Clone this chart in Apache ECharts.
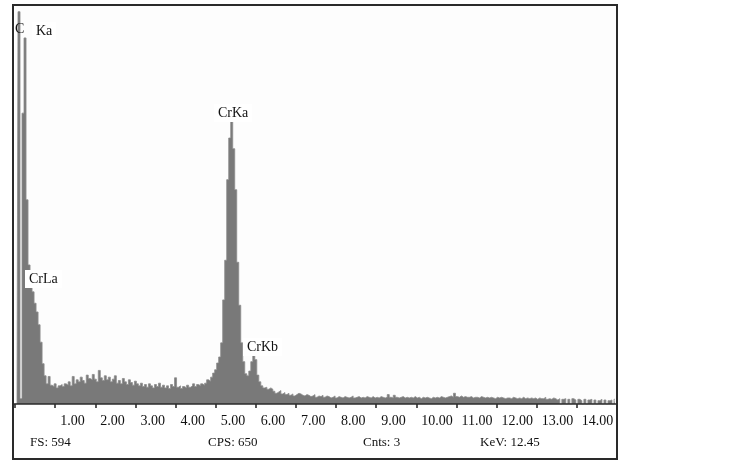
<!DOCTYPE html>
<html>
<head>
<meta charset="utf-8">
<title>EDS spectrum</title>
<script src="https://cdn.jsdelivr.net/npm/echarts@6/dist/echarts.min.js"></script>
<style>
  html, body { margin: 0; padding: 0; background: #fff; }
  #spectrum { width: 739px; height: 466px; }
</style>
</head>
<body>
<div id="spectrum"></div>
<script>
// channel width of the spectrum, keV
var channelKeV = 0.05;

// counts per channel (channel 0 = 0.00 keV)
var counts = [
    0, 0, 584, 8, 433, 545, 304, 207, 180, 167,       // 0
    150, 137, 118, 92, 60, 42, 30, 41, 28, 26,        // 10
    30, 24, 27, 29, 26, 30, 28, 33, 27, 41,           // 20
    30, 36, 33, 40, 35, 31, 43, 38, 36, 44,           // 30
    37, 33, 50, 39, 35, 42, 36, 40, 33, 37,           // 40
    42, 31, 35, 30, 38, 33, 29, 36, 32, 28,           // 50
    34, 30, 27, 31, 26, 29, 25, 30, 27, 24,           // 60
    29, 26, 31, 25, 28, 24, 27, 23, 29, 26,           // 70
    39, 25, 27, 23, 26, 24, 28, 25, 27, 30,           // 80
    26, 29, 27, 30, 28, 31, 36, 34, 40, 46,           // 90
    51, 61, 70, 91, 155, 214, 334, 396, 428, 380,     // 100
    319, 211, 147, 91, 63, 45, 42, 49, 63, 73,        // 110
    66, 43, 33, 27, 24, 25, 22, 24, 22, 19,           // 120
    16, 18, 20, 15, 17, 14, 16, 13, 15, 12,           // 130
    14, 16, 15, 13, 12, 14, 13, 11, 12, 14,           // 140
    10, 12, 11, 13, 10, 12, 11, 9, 10, 12,            // 150
    9, 11, 10, 9, 11, 10, 9, 10, 12, 9,               // 160
    10, 11, 9, 10, 9, 11, 10, 9, 11, 9,               // 170
    10, 9, 11, 10, 9, 10, 14, 10, 9, 13,              // 180
    10, 9, 10, 11, 9, 10, 9, 10, 9, 11,               // 190
    9, 10, 8, 10, 9, 10, 9, 8, 10, 9,                 // 200
    10, 9, 11, 10, 9, 10, 11, 12, 10, 16,             // 210
    11, 10, 12, 10, 11, 10, 10, 11, 9, 10,            // 220
    10, 9, 11, 10, 9, 10, 9, 10, 9, 8,                // 230
    10, 9, 10, 9, 8, 9, 9, 8, 10, 9,                  // 240
    8, 9, 8, 10, 8, 9, 8, 9, 8, 9,                    // 250
    7, 9, 8, 8, 10, 7, 8, 7, 9, 8,                    // 260
    6, 8, 0, 7, 8, 0, 7, 0, 8, 6,                     // 270
    0, 7, 5, 0, 7, 0, 6, 7, 0, 6,                     // 280
    0, 5, 7, 0, 6, 0, 5, 6, 0, 7                      // 290
];

// x axis labels for 1..14 keV
var tickLabels = ['1.00', '2.00', '3.00', '4.00', '5.00', '6.00', '7.00',
    '8.00', '9.00', '10.00', '11.00', '12.00', '13.00', '14.00'];

// peak labels
var peakNames = ['C', 'Ka', 'CrLa', 'CrKa', 'CrKb'];

// status line under the axis
var footer = ['FS: 594', 'CPS: 650', 'Cnts: 3', 'KeV: 12.45'];

var serif = '"Liberation Serif", "DejaVu Serif", serif';

var chart = echarts.init(document.getElementById('spectrum'));

var points = [];
for (var i = 0; i < counts.length; i++) {
    points.push([i * channelKeV, counts[i]]);
}

function txt(x, y, s, size, bg) {
    var style = {
        text: s,
        fill: '#111',
        font: size + 'px ' + serif,
        textVerticalAlign: 'middle'
    };
    if (bg) {
        style.backgroundColor = '#fff';
        style.padding = [2, 4];
    }
    return { type: 'text', left: x, top: y, z: 20, style: style };
}

var option = {
    animation: false,
    backgroundColor: '#fff',
    grid: {
        left: 15,
        right: 122,
        top: 5,
        bottom: 62,
        show: true,
        backgroundColor: '#fdfdfd',
        borderWidth: 0
    },
    xAxis: {
        type: 'value',
        min: 0,
        max: 15,
        interval: 1,
        splitLine: { show: false },
        axisLine: { show: false },
        axisTick: {
            show: true,
            length: 4,
            lineStyle: { color: '#222', width: 1.5 }
        },
        axisLabel: {
            align: 'left',
            margin: 10,
            padding: [0, 0, 0, 5],
            color: '#111',
            fontFamily: serif,
            fontSize: 14,
            formatter: function (v) {
                return tickLabels[v - 1] || '';
            }
        }
    },
    yAxis: {
        type: 'value',
        min: 0,
        max: 594,
        show: false,
        splitLine: { show: false }
    },
    series: [{
        type: 'line',
        step: 'middle',
        symbol: 'none',
        data: points,
        lineStyle: { color: '#8c8c8c', width: 0.8 },
        areaStyle: { color: '#797979', opacity: 1 }
    }],
    graphic: [
        // outer frame
        {
            type: 'rect', z: 30, silent: true,
            shape: { x: 13, y: 5, width: 604, height: 454 },
            style: { fill: null, stroke: '#2a2a2a', lineWidth: 2 }
        },
        // base line of the spectrum
        {
            type: 'line', z: 30, silent: true,
            shape: { x1: 13, y1: 404, x2: 617, y2: 404 },
            style: { stroke: '#2a2a2a', lineWidth: 1.5 }
        },
        txt(15, 22, peakNames[0], 14, false),
        txt(32, 22, peakNames[1], 14, true),
        txt(25, 270, peakNames[2], 14, true),
        txt(214, 104, peakNames[3], 14, true),
        txt(243, 338, peakNames[4], 14, true),
        txt(30, 436, footer[0], 13, false),
        txt(208, 436, footer[1], 13, false),
        txt(363, 436, footer[2], 13, false),
        txt(480, 436, footer[3], 13, false)
    ]
};

chart.setOption(option);
</script>
</body>
</html>
